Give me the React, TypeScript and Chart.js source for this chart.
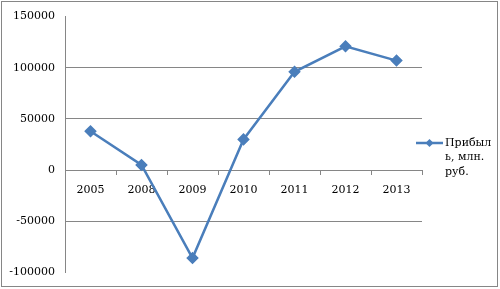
import React, { useEffect, useRef } from "react";
import { Chart, registerables } from "chart.js";

Chart.register(...registerables);

const years = ["2005", "2008", "2009", "2010", "2011", "2012", "2013"];
const profit = [38000, 5000, -86000, 30000, 96000, 121000, 107000];
const seriesName = "Прибыль, млн. руб.";
const legendLines = ["Прибыл", "ь, млн.", "руб."];
const yMin = -100000;
const yMax = 150000;
const yStep = 50000;

const LINE = "#4A7EBB";
const GRID = "#868686";
const FONT = '"DejaVu Serif", "Liberation Serif", serif';
const FSIZE = 11;

export default function App() {
  const ref = useRef<HTMLCanvasElement>(null);

  useEffect(() => {
    let chart: Chart | null = null;
    let cancelled = false;
    const framePlugin = {
      id: "frame",
      afterDraw(c: any) {
        const ctx = c.ctx;
        ctx.save();
        ctx.strokeStyle = GRID;
        ctx.lineWidth = 1;
        ctx.strokeRect(1.5, 1.5, 496, 285);
        const y0 = 143;
        ctx.strokeStyle = LINE;
        ctx.lineWidth = 2.5;
        ctx.beginPath();
        ctx.moveTo(416, y0);
        ctx.lineTo(443, y0);
        ctx.stroke();
        ctx.fillStyle = LINE;
        ctx.beginPath();
        const cx = 429.5, r = 4;
        ctx.moveTo(cx, y0 - r);
        ctx.lineTo(cx + r, y0);
        ctx.lineTo(cx, y0 + r);
        ctx.lineTo(cx - r, y0);
        ctx.closePath();
        ctx.fill();
        ctx.fillStyle = "#000";
        ctx.font = `${FSIZE}px ${FONT}`;
        ctx.textBaseline = "middle";
        ctx.textAlign = "left";
        legendLines.forEach((t, i) => ctx.fillText(t, 445, y0 + i * 14.5));
        ctx.restore();
      },
    };

    const build = () => {
      if (cancelled || !ref.current) return;
      chart = new Chart(ref.current, {
        type: "line",
        data: {
          labels: years,
          datasets: [
            {
              label: seriesName,
              data: profit,
              borderColor: LINE,
              backgroundColor: LINE,
              borderWidth: 2.5,
              pointStyle: "rectRot",
              pointRadius: 4.5,
              pointBackgroundColor: LINE,
              pointBorderColor: LINE,
              tension: 0,
            },
          ],
        },
        options: {
          animation: false,
          responsive: false,
          layout: { padding: { left: 0, top: 15, right: 78, bottom: 16 } },
          plugins: { legend: { display: false }, tooltip: { enabled: false } },
          scales: {
            x: {
              position: { y: 0 } as any,
              offset: true,
              border: { color: GRID, width: 1 },
              grid: {
                offset: true,
                drawOnChartArea: false,
                drawTicks: true,
                tickLength: 4,
                color: GRID,
              },
              ticks: {
                color: "#000",
                font: { family: FONT, size: FSIZE },
                padding: 9,
                maxRotation: 0,
                autoSkip: false,
              },
            },
            y: {
              min: yMin,
              max: yMax,
              afterFit(scale: any) {
                scale.width = 65;
              },
              border: { color: GRID, width: 1 },
              grid: {
                drawTicks: false,
                color: (c: any) =>
                  c.tick && (c.tick.value === yMax || c.tick.value === yMin)
                    ? "rgba(0,0,0,0)"
                    : GRID,
              },
              ticks: {
                stepSize: yStep,
                color: "#000",
                font: { family: FONT, size: FSIZE },
                padding: 10,
                callback: (v: any) => String(v),
              },
            },
          },
        },
        plugins: [framePlugin],
      });
    };

    const fontsApi = (document as any).fonts;
    if (fontsApi && fontsApi.load) {
      Promise.all([
        fontsApi.load(`${FSIZE}px "DejaVu Serif"`),
        fontsApi.load(`${FSIZE}px "DejaVu Serif"`, "Прибыль"),
      ])
        .catch(() => {})
        .then(build);
    } else {
      build();
    }
    return () => {
      cancelled = true;
      if (chart) chart.destroy();
    };
  }, []);

  return (
    <div style={{ position: "fixed", left: 0, top: 0, width: 500, height: 289, background: "#fff" }}>
      <canvas ref={ref} width={500} height={289} style={{ width: 500, height: 289 }} />
    </div>
  );
}
